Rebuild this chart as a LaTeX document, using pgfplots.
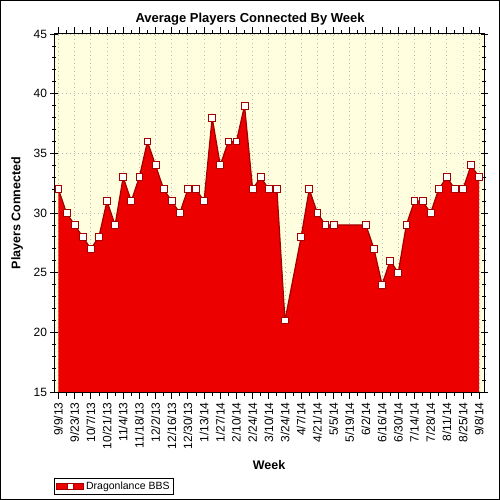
\documentclass[border=0pt]{standalone}
\usepackage{pgfplots}
\pgfplotsset{compat=1.18}
\usepackage{fontspec}
\setmainfont{Liberation Sans}
\definecolor{areared}{RGB}{236,0,0}
\definecolor{edgered}{RGB}{165,0,0}
\definecolor{bgyellow}{RGB}{255,255,224}
\begin{document}
\begin{tikzpicture}
\useasboundingbox (0,0) rectangle (500bp,500bp);
\draw[line width=1bp] (0.5bp,0.5bp) rectangle (499.5bp,499.5bp);
\begin{axis}[
  at={(54bp,108bp)}, anchor=south west,
  scale only axis, width=430bp, height=358bp,
  xmin=-0.55, xmax=52.6, ymin=15, ymax=45,
  axis background/.style={fill=bgyellow},
  axis line style={line width=1bp},
  xtick={0,2,...,52},
  xticklabels={9/9/13,9/23/13,10/7/13,10/21/13,11/4/13,11/18/13,12/2/13,12/16/13,12/30/13,1/13/14,1/27/14,2/10/14,2/24/14,3/10/14,3/24/14,4/7/14,4/21/14,5/5/14,5/19/14,6/2/14,6/16/14,6/30/14,7/14/14,7/28/14,8/11/14,8/25/14,9/8/14},
  ytick={15,20,...,45},
  minor x tick num=1, minor y tick num=4,
  xtick align=outside, ytick align=center,
  major tick length=7bp, minor tick length=3.5bp,
  tick style={black, line width=0.8bp},
  grid=major,
  major grid style={gray!55, line width=0.8bp, dash pattern=on 1bp off 3bp},
  /pgf/number format/assume math mode=true,
  ticklabel style={font=\fontsize{12bp}{14bp}\selectfont},
  xticklabel style={rotate=90, anchor=east},
  title={\textbf{Average Players Connected By Week}},
  title style={at={(axis description cs:0.456,1.024)}, anchor=center, font=\fontsize{13bp}{15bp}\selectfont},
  xlabel={\textbf{Week}},
  xlabel style={at={(axis description cs:0.5,-0.204)}, anchor=center, font=\fontsize{12.5bp}{15bp}\selectfont},
  ylabel={\textbf{Players Connected}},
  ylabel style={at={(axis description cs:-0.086,0.5)}, anchor=center, rotate=0, font=\fontsize{12.5bp}{15bp}\selectfont},
  legend style={at={(axis description cs:0,-0.240)}, anchor=north west, draw=black, line width=0.8bp,
     font=\fontsize{10.5bp}{12bp}\selectfont, inner sep=1.5bp, row sep=0pt},
  legend cell align=left,
]
\addplot[draw=none, fill=areared, forget plot] coordinates {
(0,32)(1,30)(2,29)(3,28)(4,27)(5,28)(6,31)(7,29)(8,33)(9,31)(10,33)(11,36)(12,34)(13,32)(14,31)(15,30)(16,32)(17,32)(18,31)(19,38)(20,34)(21,36)(22,36)(23,39)(24,32)(25,33)(26,32)(27,32)(28,21)(30,28)(31,32)(32,30)(33,29)(34,29)(38,29)(39,27)(40,24)(41,26)(42,25)(43,29)(44,31)(45,31)(46,30)(47,32)(48,33)(49,32)(50,32)(51,34)(52,33)
} \closedcycle;
\addplot[color=edgered, line width=1.2bp, mark=square*, mark size=3.4bp,
  mark options={fill=white, draw=edgered, line width=0.8bp},
  legend image code/.code={
    \fill[areared] (0bp,-3bp) rectangle (27bp,3bp);
    \draw[edgered, line width=0.8bp] (0bp,-3bp) rectangle (27bp,3bp);
    \draw[fill=white, draw=edgered, line width=0.8bp] (10.5bp,-3.2bp) rectangle (16.5bp,3.2bp);
  }] coordinates {
(0,32)(1,30)(2,29)(3,28)(4,27)(5,28)(6,31)(7,29)(8,33)(9,31)(10,33)(11,36)(12,34)(13,32)(14,31)(15,30)(16,32)(17,32)(18,31)(19,38)(20,34)(21,36)(22,36)(23,39)(24,32)(25,33)(26,32)(27,32)(28,21)(30,28)(31,32)(32,30)(33,29)(34,29)(38,29)(39,27)(40,24)(41,26)(42,25)(43,29)(44,31)(45,31)(46,30)(47,32)(48,33)(49,32)(50,32)(51,34)(52,33)
};
\addlegendentry{Dragonlance BBS}
\end{axis}
\end{tikzpicture}
\end{document}
